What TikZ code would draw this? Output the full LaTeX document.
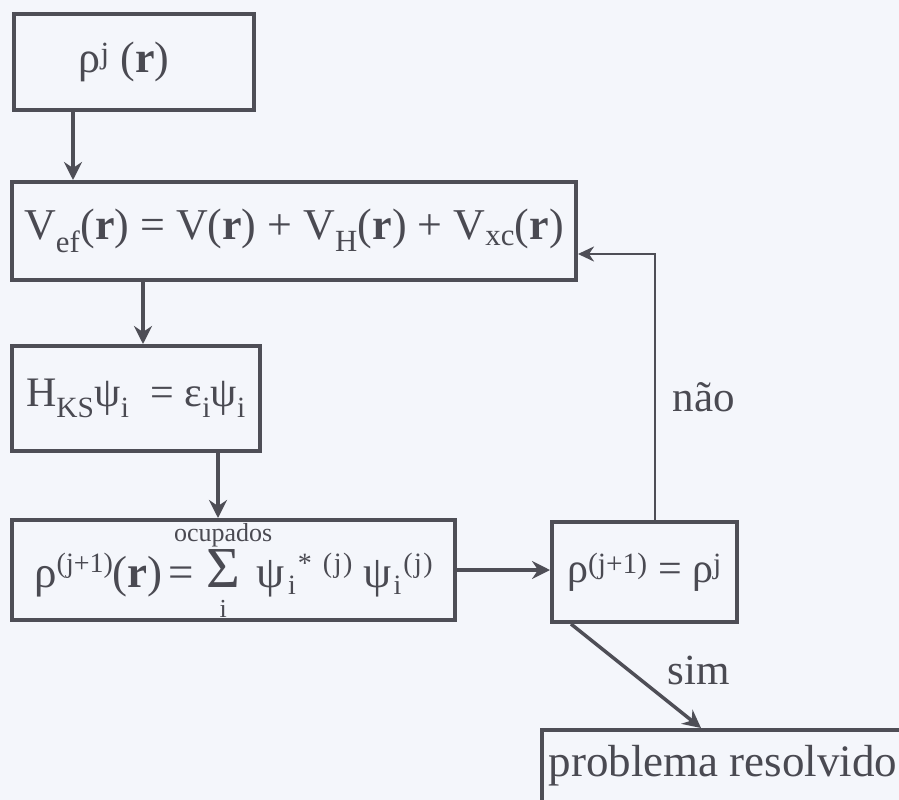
\documentclass[tikz,border=0pt]{standalone}
\usepackage{fontspec}
\setmainfont{Liberation Serif}
\usetikzlibrary{arrows.meta,calc}
\definecolor{ink}{HTML}{4E4E56}
\definecolor{txt}{HTML}{4A4A52}
\definecolor{bg}{HTML}{F4F6FB}
\newsavebox\sigbox
\newcommand\SumOcc{\sbox\sigbox{\fontsize{58}{58}\selectfont Σ}%
  \rlap{\makebox[\wd\sigbox]{\raisebox{46pt}{\fontsize{26}{26}\selectfont ocupados}}}%
  \rlap{\makebox[\wd\sigbox]{\raisebox{-30pt}{\fontsize{26}{26}\selectfont i}}}%
  \usebox\sigbox}
\newcommand\Sp[1]{\raisebox{15pt}{\fontsize{28}{28}\selectfont #1}}
\newcommand\Sb[1]{\raisebox{-7pt}{\fontsize{28}{28}\selectfont #1}}
\begin{document}
\begin{tikzpicture}[x=1pt,y=-1pt,
  box/.style={draw=ink,line width=4pt,inner sep=0pt,text=txt,minimum width=#1},
  arr/.style={draw=ink,line width=3.5pt,-{Stealth[length=18pt,width=18pt,inset=6pt]}},
  fb/.style={draw=ink,line width=2.5pt,-{Stealth[length=16pt,width=15pt,inset=5pt]}},
  lbl/.style={text=txt,font=\fontsize{43}{50}\selectfont}]
\fill[bg] (0,0) rectangle (899,800);
\useasboundingbox (0,0) rectangle (899,800);

\node[box=240pt,minimum height=96pt,font=\fontsize{44}{50}\selectfont] (b1) at (134,62)
  {ρ\textsuperscript{j} (\textbf{r})\kern20pt};
\node[box=564pt,minimum height=98pt,font=\fontsize{44}{52}\selectfont] (b2) at (294,231)
  {V\textsubscript{ef}(\textbf{r}) = V(\textbf{r}) + V\textsubscript{H}(\textbf{r}) + V\textsubscript{xc}(\textbf{r})};
\node[box=248pt,minimum height=105pt,font=\fontsize{42}{48}\selectfont] (b3) at (136,398.5)
  {H\textsubscript{KS}ψ\textsubscript{i}\ \ = ε\textsubscript{i}ψ\textsubscript{i}};
\node[box=443pt,minimum height=100pt,font=\fontsize{45}{50}\selectfont] (b4) at (233.5,570)
  {ρ\Sp{(j+1)}(\textbf{r})\kern6pt=\kern12pt\SumOcc\kern16pt
   ψ\kern4pt\Sb{i}\kern2pt\Sp{*}\kern11pt\Sp{(\kern1.5pt j\kern1.5pt)}\kern11pt
   ψ\kern2pt\Sb{i}\kern2pt\Sp{(\kern1.5pt j\kern1.5pt)}};
\node[box=185pt,minimum height=100pt,font=\fontsize{42}{48}\selectfont] (b5) at (644.5,572)
  {ρ\textsuperscript{(j+1)} = ρ\textsuperscript{j}};
\node[box=418pt,minimum height=130pt] (b6) at (751,795) {};
\node[lbl,font=\fontsize{45}{50}\selectfont] (t6) at (723,766) {problema resolvido};

\draw[arr] ($(b1.south west)+(61,0)$) coordinate (a1) -- (a1 |- b2.north);
\draw[arr] ($(b2.south west)+(133,0)$) coordinate (a2) -- (a2 |- b3.north);
\draw[arr] ($(b3.south west)+(208,0)$) coordinate (a3) -- (a3 |- b4.north);
\draw[arr] (b4.east) -- (b4.east -| b5.west);
\draw[fb] ($(b5.north west)+(105,0)$) coordinate (f1) |- ($(b2.east)+(0,23)$) coordinate (f2);
\draw[arr] ($(b5.south west)+(21,0)$) coordinate (d1) -- ($(b6.north west)+(161,0)$) coordinate (d2);

\node[lbl] (nao) at (704,397) {não};
\node[lbl] (sim) at (699,670) {sim};
\end{tikzpicture}
\end{document}
